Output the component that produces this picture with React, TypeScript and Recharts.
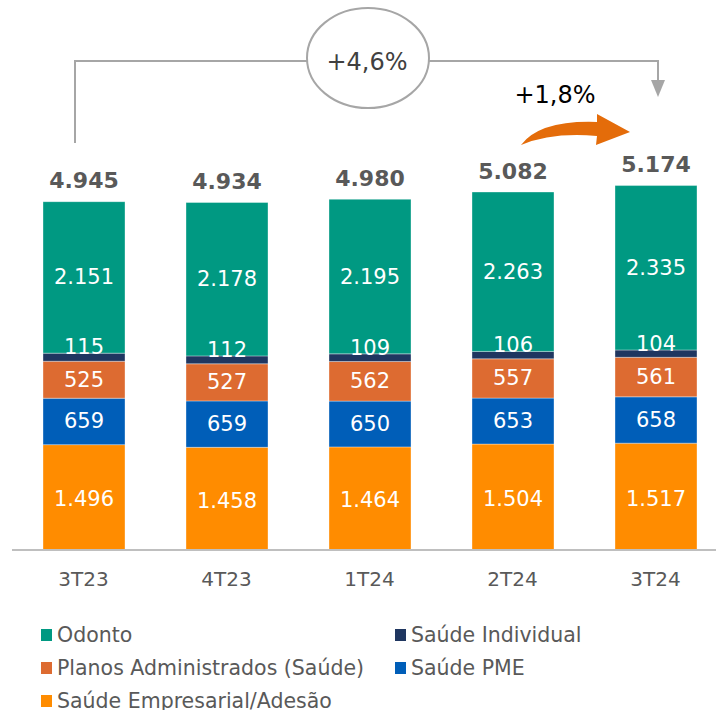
import { BarChart, Bar, XAxis, YAxis, LabelList } from 'recharts';

const categories = ['3T23', '4T23', '1T24', '2T24', '3T24'];
const empresarial = [1496, 1458, 1464, 1504, 1517];
const pme = [659, 659, 650, 653, 658];
const planos = [525, 527, 562, 557, 561];
const individual = [115, 112, 109, 106, 104];
const odonto = [2151, 2178, 2195, 2263, 2335];
const totals = [4945, 4934, 4980, 5082, 5174];

const FONT = "'DejaVu Sans', Verdana, sans-serif";
const GRAY = '#595959';

const colors = {
  odonto: '#009982',
  individual: '#1F3660',
  planos: '#DD6B31',
  pme: '#005EB8',
  empresarial: '#FF8C00',
};

const data = categories.map((c, i) => ({
  name: c,
  empresarial: empresarial[i],
  pme: pme[i],
  planos: planos[i],
  individual: individual[i],
  odonto: odonto[i],
  total: totals[i],
}));

const fmt = (v: number) => String(v).replace(/\B(?=(\d{3})+(?!\d))/g, '.');

const SegLabel = (shift = 0) => (props: any) => {
  const { x, y, width, height, value } = props;
  return (
    <text x={x + width / 2} y={y + height / 2 + shift} textAnchor="middle" dominantBaseline="central"
      fill="#fff" fontSize={21} fontFamily={FONT}>
      {fmt(value)}
    </text>
  );
};

const TotalLabel = (props: any) => {
  const { x, y, width, value } = props;
  return (
    <text x={x + width / 2} y={y - 21} textAnchor="middle" dominantBaseline="central"
      fill={GRAY} fontSize={22} fontWeight="bold" fontFamily={FONT}>
      {fmt(value)}
    </text>
  );
};

const Tick = (props: any) => {
  const { x, y, payload } = props;
  return (
    <text x={x} y={y + 21} textAnchor="middle" dominantBaseline="central" fill={GRAY} fontSize={20} fontFamily={FONT}>
      {payload.value}
    </text>
  );
};

const legend = [
  { key: 'odonto', label: 'Odonto' },
  { key: 'individual', label: 'Saúde Individual' },
  { key: 'planos', label: 'Planos Administrados (Saúde)' },
  { key: 'pme', label: 'Saúde PME' },
  { key: 'empresarial', label: 'Saúde Empresarial/Adesão' },
];

const MARGIN = { top: 57, right: 3, left: 12, bottom: 130 };
const segStroke = { stroke: '#ffffff', strokeOpacity: 0.35, strokeWidth: 1 };

export default function App() {
  return (
    <div style={{ position: 'absolute', left: 0, top: 0, width: 716, height: 710, overflow: 'hidden', background: '#fff', fontFamily: FONT }}>
      <BarChart width={730} height={710} data={data} margin={MARGIN} barSize={82}>
        <XAxis dataKey="name" height={30} axisLine={{ stroke: '#BFBFBF', strokeWidth: 2 }} tickLine={false} tick={<Tick />} />
        <YAxis hide domain={[0, 7000]} />
        <Bar dataKey="empresarial" stackId="a" fill={colors.empresarial} {...segStroke} isAnimationActive={false}>
          <LabelList dataKey="empresarial" content={SegLabel(2)} />
        </Bar>
        <Bar dataKey="pme" stackId="a" fill={colors.pme} {...segStroke} isAnimationActive={false}>
          <LabelList dataKey="pme" content={SegLabel(0)} />
        </Bar>
        <Bar dataKey="planos" stackId="a" fill={colors.planos} {...segStroke} isAnimationActive={false}>
          <LabelList dataKey="planos" content={SegLabel(0)} />
        </Bar>
        <Bar dataKey="individual" stackId="a" fill={colors.individual} {...segStroke} isAnimationActive={false} />
        <Bar dataKey="odonto" stackId="a" fill={colors.odonto} {...segStroke} isAnimationActive={false}>
          <LabelList dataKey="odonto" content={SegLabel(0)} />
        </Bar>
      </BarChart>

      {/* second pass: labels that sit over neighbouring segments */}
      <div style={{ position: 'absolute', left: 0, top: 0 }}>
        <BarChart width={730} height={710} data={data} margin={MARGIN} barSize={82}>
          <XAxis dataKey="name" height={30} axisLine={false} tickLine={false} tick={false} />
          <YAxis hide domain={[0, 7000]} />
          <Bar dataKey={(d: any) => d.empresarial + d.pme + d.planos} stackId="a" fill="transparent" isAnimationActive={false} />
          <Bar dataKey="individual" stackId="a" fill="transparent" isAnimationActive={false}>
            <LabelList dataKey="individual" content={SegLabel(-10)} />
          </Bar>
          <Bar dataKey="odonto" stackId="a" fill="transparent" isAnimationActive={false}>
            <LabelList dataKey="total" content={TotalLabel} />
          </Bar>
        </BarChart>
      </div>

      <svg width={716} height={200} style={{ position: 'absolute', left: 0, top: 0 }}>
        <polyline points="75,143 75,61 307,61" fill="none" stroke="#A6A6A6" strokeWidth={2} />
        <polyline points="429,61 658,61 658,82" fill="none" stroke="#A6A6A6" strokeWidth={2} />
        <polygon points="651,80 665,80 658,97" fill="#A6A6A6" />
        <ellipse cx={368} cy={58} rx={61} ry={50} fill="#fff" stroke="#A6A6A6" strokeWidth={2} />
        <text x={367} y={62} textAnchor="middle" dominantBaseline="central" fill="#404040" fontSize={24} fontFamily={FONT}>+4,6%</text>
        <text x={555} y={95} textAnchor="middle" dominantBaseline="central" fill="#000" fontSize={24} fontFamily={FONT}>+1,8%</text>
        <path d="M 521 145 Q 540 120 597 122 L 597 114 L 630 132 L 596 145 L 597 136 Q 552 132 521 145 Z" fill="#E46C0A" />
      </svg>

      <div style={{ position: 'absolute', left: 41, top: 620, width: 700, color: GRAY, fontSize: 20.5 }}>
        {legend.map((l, i) => (
          <div key={l.key} style={{ position: 'absolute', left: i % 2 ? 354 : 0, top: Math.floor(i / 2) * 33, display: 'flex', alignItems: 'center', whiteSpace: 'nowrap', height: 30 }}>
            <span style={{ display: 'inline-block', width: 11, height: 12, background: (colors as any)[l.key], marginRight: 5 }} />
            <span>{l.label}</span>
          </div>
        ))}
      </div>
    </div>
  );
}
